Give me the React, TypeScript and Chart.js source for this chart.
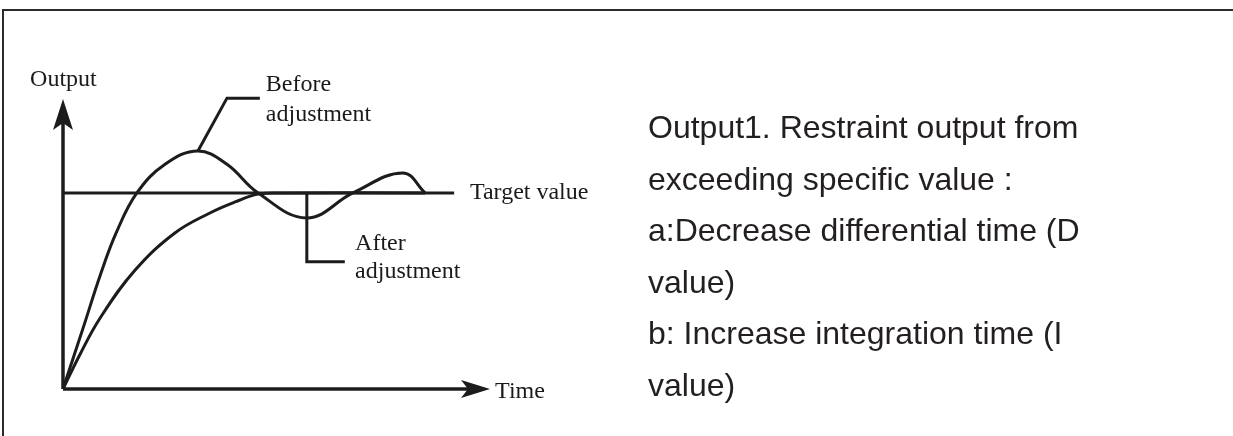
import React, { useEffect, useRef } from "react";
import { Chart, registerables } from "chart.js";

Chart.register(...registerables);

// Time axis runs 0..100 (arrow tip), Output axis 0..100 (arrow tip)
const beforeTime = [0, 4.7, 8.9, 12.5, 17.3, 23.9, 31.6, 38.4, 45.7, 57.1, 67.9, 79.6, 84.8];
const beforeOutput = [0, 21, 40, 54, 67.6, 77.5, 82.1, 77.5, 67.6, 59.0, 67.6, 74.5, 67.6];

const afterTime = [0, 4, 8.7, 16.9, 26.2, 34.4, 40.3, 45.7, 52, 84.8];
const afterOutput = [0, 12, 24.5, 41, 53.8, 60.7, 64.5, 67.2, 67.6, 67.6];

const targetValue = 67.6;
const targetTime = [0, 91.6];

const beforeLeaderTime = [31.6, 38.4, 46.1];
const beforeLeaderOutput = [82.1, 100.3, 100.3];
const afterLeaderTime = [57.1, 57.1, 66.0];
const afterLeaderOutput = [67.6, 43.9, 43.9];

const axisTime = [0, 96];
const axisOutput = [0, 96];

// diagram labels: [text, time, output]
const diagramLabels: [string, number, number][] = [
  ["Output", -7.7, 106.6],
  ["Before", 47.5, 104.8],
  ["adjustment", 47.5, 94.6],
  ["Target value", 95.3, 67.6],
  ["After", 68.4, 50.0],
  ["adjustment", 68.4, 40.3],
  ["Time", 101.2, -0.8],
];

const noteLines = [
  "Output1. Restraint output from",
  "exceeding specific value :",
  "a:Decrease differential time (D",
  "value)",
  "b: Increase integration time (I",
  "value)",
];

const INK = "#1c1c1c";

function pts(xs: number[], ys: number[]) {
  return xs.map((x, i) => ({ x, y: ys[i] }));
}

const annotPlugin = {
  id: "annot",
  afterDatasetsDraw(chart: any) {
    const { ctx, scales } = chart;
    const x = scales.x;
    const y = scales.y;
    const ox = x.getPixelForValue(0);
    const oy = y.getPixelForValue(0);
    const tipX = x.getPixelForValue(100);
    const tipY = y.getPixelForValue(100);
    ctx.save();
    ctx.fillStyle = INK;
    // x arrow head
    ctx.beginPath();
    ctx.moveTo(tipX, oy);
    ctx.lineTo(tipX - 29, oy - 9);
    ctx.lineTo(tipX - 22, oy);
    ctx.lineTo(tipX - 29, oy + 9);
    ctx.closePath();
    ctx.fill();
    // y arrow head
    ctx.beginPath();
    ctx.moveTo(ox, tipY);
    ctx.lineTo(ox - 10, tipY + 31);
    ctx.lineTo(ox, tipY + 24);
    ctx.lineTo(ox + 10, tipY + 31);
    ctx.closePath();
    ctx.fill();
    // labels
    ctx.fillStyle = "#1a1a1a";
    ctx.font = '24px "Liberation Serif", "DejaVu Serif", serif';
    ctx.textAlign = "left";
    ctx.textBaseline = "middle";
    diagramLabels.forEach(([t, tx, ty]) => {
      ctx.fillText(t, x.getPixelForValue(tx), y.getPixelForValue(ty));
    });
    ctx.restore();
  },
};

export default function App() {
  const ref = useRef<HTMLCanvasElement | null>(null);

  useEffect(() => {
    document.body.style.margin = "0";
    const canvas = ref.current;
    if (!canvas) return;
    const line = (data: any, width = 3, extra: any = {}) => ({
      data,
      borderColor: INK,
      borderWidth: width,
      pointRadius: 0,
      fill: false,
      clip: false,
      tension: 0,
      ...extra,
    });
    const chart = new Chart(canvas, {
      type: "line",
      data: {
        datasets: [
          line(pts(axisTime, [0, 0]), 3.5),
          line(pts([0, 0], axisOutput), 3.5),
          line(pts(targetTime, [targetValue, targetValue]), 3),
          line(pts(afterTime, afterOutput), 3, { tension: 0.4 }),
          line(pts(beforeTime, beforeOutput), 3, { tension: 0.4 }),
          line(pts(beforeLeaderTime, beforeLeaderOutput), 3),
          line(pts(afterLeaderTime, afterLeaderOutput), 3),
        ],
      },
      options: {
        animation: false,
        responsive: false,
        maintainAspectRatio: false,
        layout: { padding: { left: 63, top: 99, right: 743, bottom: 47 } },
        scales: {
          x: { type: "linear", min: 0, max: 100, display: false },
          y: { type: "linear", min: 0, max: 100, display: false },
        },
        plugins: { legend: { display: false }, tooltip: { enabled: false } },
        events: [],
      },
      plugins: [annotPlugin],
    });
    return () => chart.destroy();
  }, []);

  return (
    <div style={{ position: "relative", width: 1233, height: 436, background: "#fff", overflow: "hidden" }}>
      <div
        style={{
          position: "absolute",
          left: 2,
          top: 9,
          right: -10,
          bottom: -10,
          borderTop: "2px solid #2e2a29",
          borderLeft: "2px solid #2e2a29",
        }}
      />
      <canvas ref={ref} width={1233} height={436} style={{ position: "absolute", left: 0, top: 0, display: "block" }} />
      <div
        style={{
          position: "absolute",
          left: 648,
          top: 102,
          fontFamily: '"Liberation Sans", Arial, sans-serif',
          fontSize: 32,
          lineHeight: "51.5px",
          color: "#231f20",
          whiteSpace: "nowrap",
        }}
      >
        {noteLines.map((l, i) => (
          <div key={i}>{l}</div>
        ))}
      </div>
    </div>
  );
}
